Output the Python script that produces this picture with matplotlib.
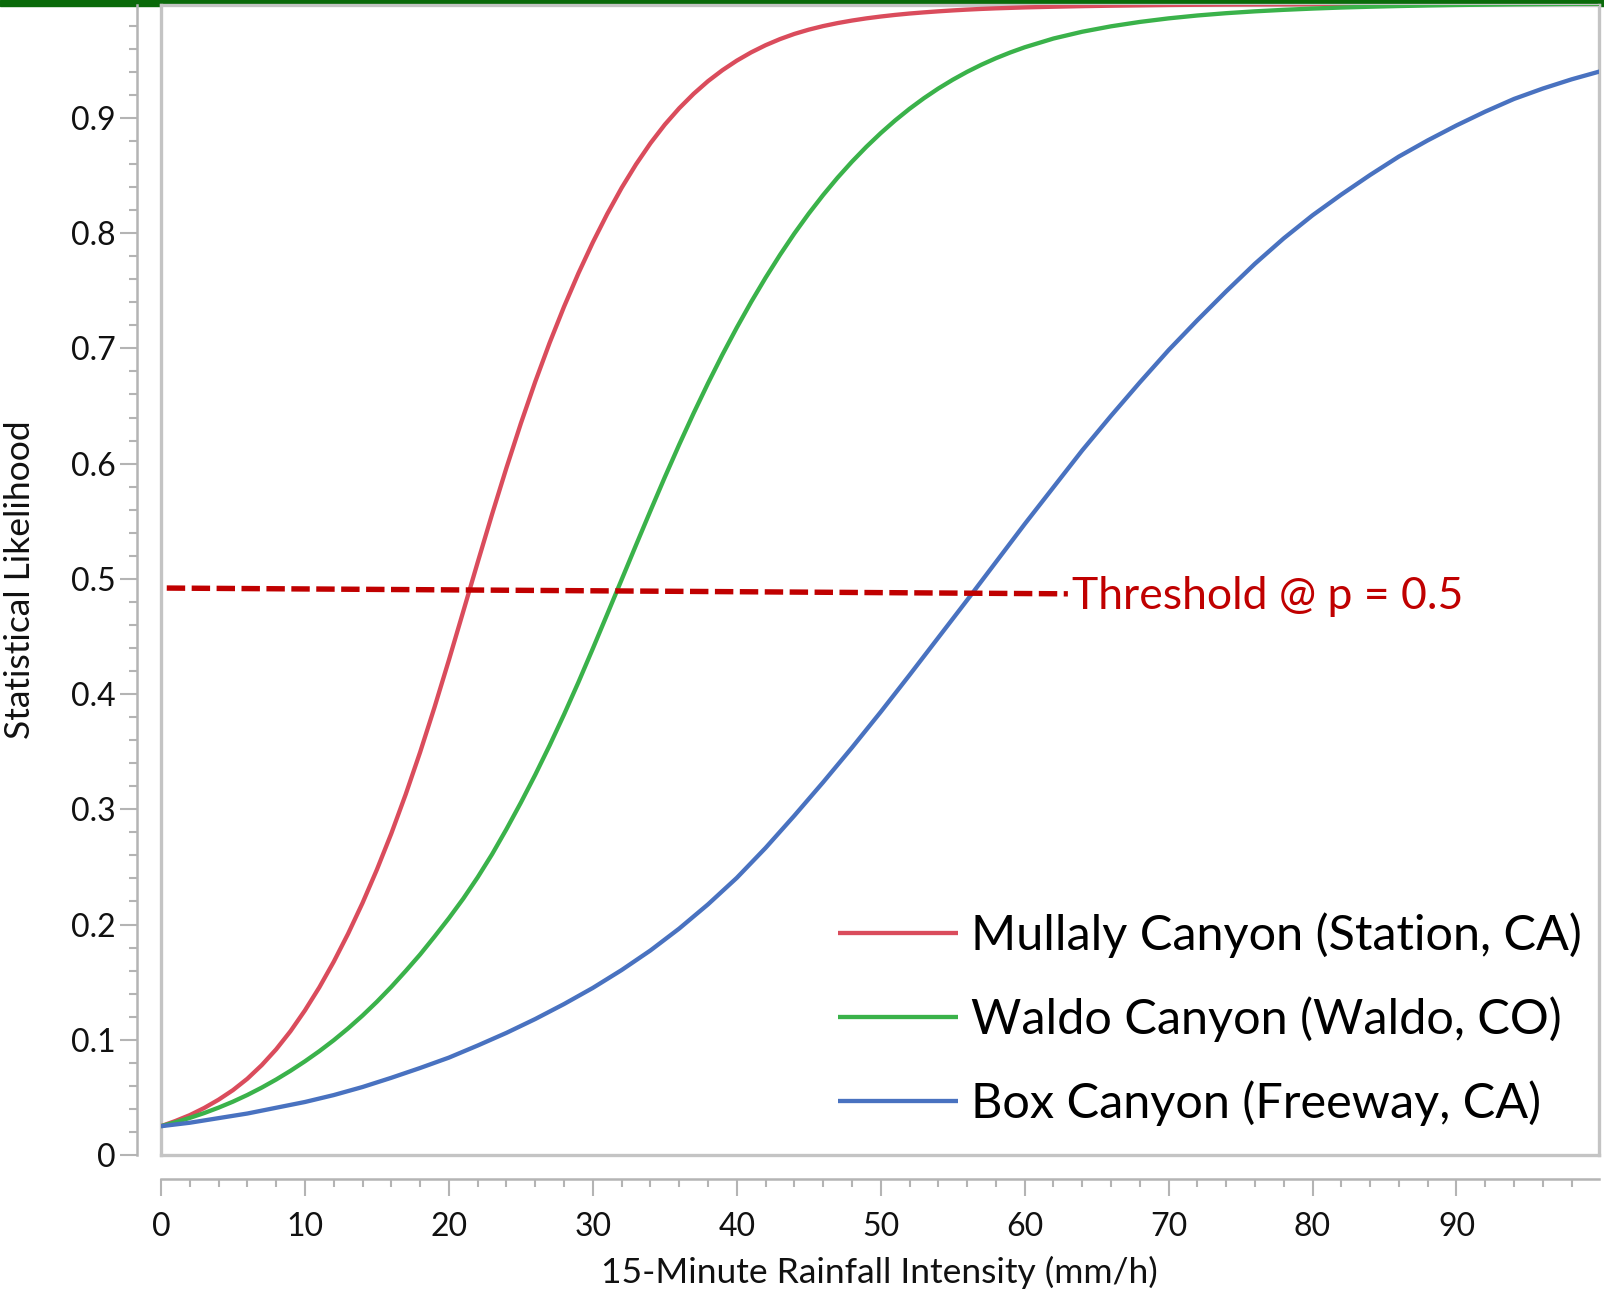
import matplotlib
matplotlib.use('Agg')
import matplotlib.pyplot as plt
from matplotlib.patches import Rectangle
from matplotlib.ticker import MultipleLocator, FuncFormatter

plt.rcParams['font.family'] = ['Lato', 'DejaVu Sans']

rainfall = [0, 1, 2, 3, 4, 5, 6, 7, 8, 9, 10, 11, 12, 13, 14, 15, 16, 17, 18, 19,
            20, 21, 22, 23, 24, 25, 26, 27, 28, 29, 30, 31, 32, 33, 34, 35, 36, 37,
            38, 39, 40, 41, 42, 43, 44, 45, 46, 47, 48, 49, 50, 51, 52, 53, 54, 55,
            56, 57, 58, 59, 60, 62, 64, 66, 68, 70, 72, 74, 76, 78, 80, 82, 84, 86,
            88, 90, 92, 94, 96, 98, 100]

mullaly = [0.025, 0.0295, 0.0346, 0.0408, 0.048, 0.0563, 0.0662, 0.078, 0.0917, 0.1075,
           0.1255, 0.1455, 0.1677, 0.1921, 0.2187, 0.2477, 0.279, 0.313, 0.3495, 0.3885,
           0.4295, 0.4718, 0.5143, 0.5561, 0.5964, 0.6349, 0.6711, 0.7049, 0.7362, 0.7652,
           0.792, 0.8167, 0.8393, 0.8597, 0.878, 0.8942, 0.9084, 0.9209, 0.9319, 0.9414,
           0.9497, 0.9569, 0.9631, 0.9684, 0.9729, 0.9766, 0.9797, 0.9823, 0.9845, 0.9864,
           0.988, 0.9894, 0.9906, 0.9916, 0.9925, 0.9933, 0.994, 0.9946, 0.9951, 0.9955,
           0.9959, 0.9965, 0.997, 0.9974, 0.9977, 0.998, 0.9982, 0.9984, 0.9985, 0.9986,
           0.9987, 0.9988, 0.9989, 0.999, 0.999, 0.999, 0.999, 0.999, 0.999, 0.999, 0.999]

waldo = [0.025, 0.0284, 0.0322, 0.0364, 0.0411, 0.0463, 0.0521, 0.0585, 0.0655, 0.0731,
         0.0813, 0.0901, 0.0996, 0.1099, 0.121, 0.133, 0.1459, 0.1597, 0.174, 0.1895,
         0.2055, 0.2225, 0.241, 0.261, 0.2828, 0.3058, 0.33, 0.3555, 0.3823, 0.4103,
         0.4395, 0.4693, 0.4993, 0.5293, 0.559, 0.5882, 0.6165, 0.6437, 0.6697, 0.6945,
         0.718, 0.7403, 0.7613, 0.7811, 0.7997, 0.817, 0.8331, 0.8481, 0.862, 0.8749,
         0.8868, 0.8978, 0.9079, 0.9171, 0.9255, 0.9331, 0.94, 0.9462, 0.9518, 0.9568,
         0.9613, 0.9689, 0.9748, 0.9795, 0.9833, 0.9864, 0.9889, 0.9909, 0.9925, 0.9938,
         0.9949, 0.9958, 0.9965, 0.9971, 0.9976, 0.998, 0.9983, 0.9986, 0.9988, 0.999, 0.9991]

# the flatter Box Canyon curve was read every 2 mm/h
rainfall_box = [0, 2, 4, 6, 8, 10, 12, 14, 16, 18, 20, 22, 24, 26, 28, 30, 32, 34,
                36, 38, 40, 42, 44, 46, 48, 50, 52, 54, 56, 58, 60, 62, 64, 66, 68,
                70, 72, 74, 76, 78, 80, 82, 84, 86, 88, 90, 92, 94, 96, 98, 100]

box = [0.025, 0.028, 0.032, 0.036, 0.041, 0.046, 0.052, 0.059, 0.067, 0.0755,
       0.0845, 0.095, 0.106, 0.118, 0.131, 0.145, 0.1605, 0.1775, 0.1965, 0.2175,
       0.2405, 0.2665, 0.2945, 0.3235, 0.3535, 0.3845, 0.4165, 0.449, 0.4815, 0.5145,
       0.5475, 0.5795, 0.6115, 0.6415, 0.6705, 0.6985, 0.7245, 0.7495, 0.7735, 0.7955,
       0.8155, 0.8335, 0.8505, 0.8665, 0.8805, 0.8935, 0.9055, 0.9165, 0.9255, 0.9335, 0.9405]

series_names = ['Mullaly Canyon (Station, CA)', 'Waldo Canyon (Waldo, CO)',
                'Box Canyon (Freeway, CA)']
series_colors = ['#da4c5c', '#3ab24a', '#4972c0']

threshold_x = [0.4, 63.0]
threshold_y = [0.492, 0.487]
threshold_label = 'Threshold @ p = 0.5'

W, H = 1604, 1289
fig = plt.figure(figsize=(W / 100, H / 100), dpi=100)

# thin dark green band along the top edge
fig.add_artist(Rectangle((0, 1 - 6 / H), 1, 6 / H, transform=fig.transFigure,
                         color='#0a6a0a', zorder=0))

rect = [161 / W, 1 - 1155 / H, (1599 - 161) / W, (1155 - 5) / H]
ax = fig.add_axes(rect)
ax.set_xlim(0, 99.9)
ax.set_ylim(0, 0.998)
for sp in ax.spines.values():
    sp.set_color('#c4c4c4')
    sp.set_linewidth(2.4)
ax.set_xticks([])
ax.set_yticks([])

lines = []
for xs, vals, name, col in zip([rainfall, rainfall, rainfall_box],
                               [mullaly, waldo, box], series_names, series_colors):
    ln, = ax.plot(xs, vals, color=col, lw=3.1, label=name,
                  solid_capstyle='butt', solid_joinstyle='round', zorder=3)
    lines.append(ln)

ax.plot(threshold_x, threshold_y, color='#c00000', lw=3.9,
        dashes=(3.4, 1.2), zorder=4)
ax.text(63.3, 0.474, threshold_label, color='#c00000', fontsize=32,
        va='baseline', ha='left')

ax.legend(handles=lines, loc='lower right', frameon=False, fontsize=35,
          handlelength=2.45, handletextpad=0.28, labelspacing=0.79,
          borderpad=0, borderaxespad=0,
          bbox_to_anchor=(1582 / W, 1 - 1126 / H), bbox_transform=fig.transFigure)

# detached axes (JMP style) offset from the frame
ax2 = fig.add_axes(rect)
ax2.patch.set_visible(False)
ax2.set_xlim(0, 99.9)
ax2.set_ylim(0, 0.998)
ax2.spines['top'].set_visible(False)
ax2.spines['right'].set_visible(False)
off = 24 * 72 / 100
ax2.spines['left'].set_position(('outward', off))
ax2.spines['bottom'].set_position(('outward', off))
for k in ('left', 'bottom'):
    ax2.spines[k].set_color('#b4b4b4')
    ax2.spines[k].set_linewidth(1.8)

ax2.xaxis.set_major_locator(MultipleLocator(10))
ax2.xaxis.set_minor_locator(MultipleLocator(2))
ax2.yaxis.set_major_locator(MultipleLocator(0.1))
ax2.yaxis.set_minor_locator(MultipleLocator(0.02))
ax2.yaxis.set_major_formatter(FuncFormatter(lambda v, _: '0' if abs(v) < 1e-9 else f'{v:.1f}'))
ax2.xaxis.set_major_formatter(FuncFormatter(lambda v, _: f'{v:.0f}'))

ax2.tick_params(which='both', color='#b4b4b4', width=1.5, labelsize=23,
                labelcolor='#111111')
ax2.tick_params(which='major', length=12.5)
ax2.tick_params(which='minor', length=6)
ax2.tick_params(axis='y', pad=3)
ax2.tick_params(axis='x', pad=11)

fig.text(879 / W, 1 - 1283 / H, '15-Minute Rainfall Intensity (mm/h)',
         fontsize=25.5, ha='center', va='baseline', color='#111111')
fig.text(20 / W, 1 - 580 / H, 'Statistical Likelihood', fontsize=25.5,
         rotation=90, ha='center', va='center', color='#111111')

fig.savefig('out.png', dpi=100)
